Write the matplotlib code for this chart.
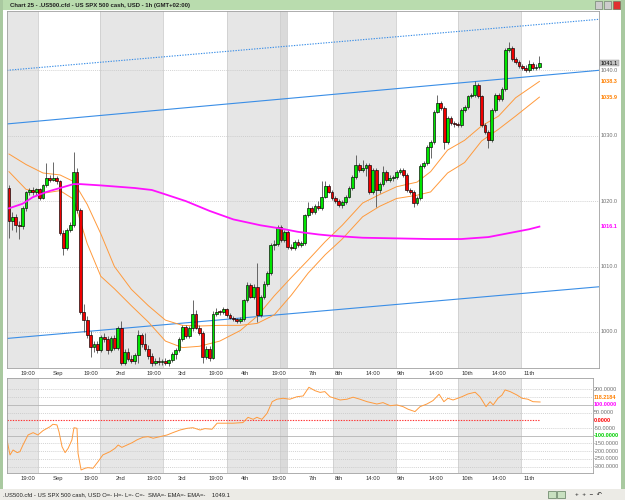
import matplotlib
matplotlib.use("Agg")
import matplotlib.pyplot as plt
from matplotlib.patches import Rectangle

plt.rcParams['font.family'] = ['Liberation Sans', 'DejaVu Sans']

# ---- hourly candles (bar index 0..156) ----
opens = [1022.0, 1016.9, 1017.6, 1016.4, 1016.2, 1019.0, 1021.4, 1021.7, 1021.4, 1021.8,
         1020.5, 1022.4, 1023.5, 1023.3, 1023.6, 1023.0, 1015.1, 1012.8, 1015.6, 1016.3,
         1024.5, 1018.6, 1003.1, 1001.8, 999.5, 997.7, 998.1, 997.3, 999.2, 998.9,
         997.3, 999.0, 997.6, 1000.6, 995.3, 997.0, 995.8, 995.5, 996.5, 999.5,
         998.2, 997.4, 996.3, 995.3, 995.6, 995.4, 995.5, 995.2, 995.7, 996.6,
         997.2, 998.9, 1000.8, 999.3, 1000.6, 1002.8, 1000.6, 999.9, 996.2, 997.4,
         996.0, 1002.8, 1003.1, 1003.0, 1003.5, 1002.6, 1002.1, 1001.9, 1001.7, 1001.9,
         1004.9, 1007.2, 1005.4, 1006.9, 1002.6, 1005.3, 1007.4, 1009.0, 1013.3, 1013.5,
         1016.1, 1014.1, 1015.3, 1013.0, 1012.9, 1013.8, 1013.3, 1013.6, 1017.9, 1018.9,
         1018.4, 1019.2, 1019.0, 1020.7, 1022.3, 1021.4, 1020.4, 1020.0, 1019.4, 1019.9,
         1020.7, 1022.0, 1023.7, 1025.5, 1024.8, 1025.0, 1025.5, 1021.4, 1024.8, 1021.7,
         1022.6, 1024.5, 1023.2, 1023.6, 1023.7, 1024.5, 1024.8, 1024.0, 1021.7, 1021.4,
         1019.7, 1020.4, 1025.3, 1025.8, 1028.3, 1029.1, 1033.7, 1035.0, 1034.2, 1029.1,
         1032.7, 1031.9, 1031.8, 1031.6, 1033.9, 1034.4, 1036.0, 1036.2, 1037.8, 1036.0,
         1031.6, 1030.5, 1029.4, 1033.9, 1036.3, 1035.6, 1037.2, 1043.1, 1043.4, 1041.8,
         1041.3, 1040.6, 1040.3, 1040.0, 1041.0, 1040.3, 1040.5]
highs = [1022.5, 1018.3, 1018.0, 1017.0, 1019.3, 1021.6, 1022.0, 1022.1, 1022.0, 1022.0,
         1022.6, 1025.8, 1024.0, 1026.0, 1023.9, 1023.3, 1015.6, 1015.9, 1016.8, 1027.5,
         1025.0, 1018.9, 1004.3, 1002.5, 1000.2, 998.6, 998.6, 999.6, 999.8, 999.3,
         999.3, 999.5, 1000.9, 1001.6, 997.4, 997.5, 996.5, 996.8, 1000.3, 999.9,
         999.8, 998.0, 996.8, 996.0, 996.2, 995.9, 996.0, 995.9, 996.9, 997.5,
         999.2, 1001.1, 1001.0, 1000.9, 1004.9, 1003.3, 1001.0, 1000.2, 997.8, 997.9,
         1003.2, 1003.6, 1003.4, 1003.8, 1003.7, 1002.9, 1002.5, 1002.2, 1002.3, 1005.1,
         1007.6, 1007.5, 1007.3, 1010.5, 1005.6, 1007.8, 1009.3, 1013.6, 1014.0, 1016.3,
         1016.4, 1015.6, 1015.6, 1013.4, 1014.0, 1014.2, 1013.9, 1018.1, 1019.9, 1019.2,
         1019.5, 1020.0, 1023.0, 1023.0, 1022.6, 1021.7, 1020.8, 1020.3, 1020.2, 1021.0,
         1022.3, 1024.0, 1027.0, 1025.8, 1026.3, 1025.8, 1025.8, 1025.0, 1025.1, 1022.9,
         1025.3, 1024.8, 1024.0, 1024.0, 1024.7, 1025.1, 1025.1, 1024.3, 1022.0, 1021.7,
         1020.8, 1025.6, 1026.2, 1028.6, 1029.4, 1034.0, 1036.2, 1035.3, 1034.5, 1033.0,
         1033.0, 1032.2, 1032.1, 1034.2, 1034.7, 1036.3, 1036.5, 1038.4, 1038.0, 1036.3,
         1031.9, 1030.8, 1034.2, 1036.6, 1036.6, 1037.5, 1043.4, 1044.4, 1043.7, 1042.1,
         1041.6, 1040.9, 1040.8, 1041.6, 1041.3, 1041.0, 1042.2]
lows = [1014.4, 1015.6, 1015.2, 1014.2, 1015.8, 1018.5, 1020.9, 1021.0, 1021.0, 1020.2,
        1020.3, 1022.1, 1022.9, 1023.0, 1022.6, 1014.8, 1011.8, 1012.5, 1015.2, 1016.0,
        1018.2, 1002.8, 1000.0, 999.0, 996.2, 997.0, 996.8, 997.0, 998.4, 996.6,
        997.0, 997.2, 997.3, 995.0, 995.0, 995.5, 995.2, 995.1, 995.2, 997.7,
        997.1, 995.8, 994.8, 994.9, 995.0, 995.0, 994.9, 994.8, 995.4, 995.8,
        996.9, 998.6, 999.0, 999.0, 1000.2, 1000.4, 999.6, 995.2, 995.9, 995.6,
        995.8, 1002.4, 1002.6, 1002.7, 1002.3, 1001.9, 1001.6, 1001.3, 1001.4, 1001.6,
        1004.6, 1005.2, 1005.1, 1001.5, 1002.3, 1005.0, 1007.0, 1008.7, 1012.6, 1013.2,
        1013.8, 1013.8, 1012.7, 1012.5, 1012.6, 1013.0, 1013.0, 1013.3, 1017.6, 1018.1,
        1018.1, 1018.7, 1018.7, 1020.4, 1021.2, 1020.1, 1019.7, 1019.1, 1019.0, 1019.6,
        1020.4, 1021.7, 1023.4, 1024.5, 1024.5, 1023.8, 1021.1, 1021.1, 1019.1, 1021.3,
        1022.3, 1022.9, 1022.9, 1023.0, 1023.4, 1024.2, 1023.7, 1021.4, 1021.1, 1019.1,
        1019.4, 1020.1, 1025.0, 1025.5, 1026.6, 1028.8, 1033.4, 1033.9, 1028.0, 1028.8,
        1031.6, 1031.4, 1031.3, 1031.3, 1033.6, 1034.1, 1035.7, 1035.9, 1035.7, 1031.3,
        1030.2, 1028.1, 1029.1, 1033.6, 1035.3, 1035.3, 1036.9, 1042.8, 1041.5, 1041.0,
        1040.3, 1040.0, 1039.8, 1039.8, 1040.0, 1040.0, 1040.2]
closes = [1016.9, 1017.6, 1016.4, 1016.2, 1019.0, 1021.4, 1021.7, 1021.4, 1021.8, 1020.5,
          1022.4, 1023.5, 1023.3, 1023.6, 1023.0, 1015.1, 1012.8, 1015.6, 1016.3, 1024.5,
          1018.6, 1003.1, 1001.8, 999.5, 997.7, 998.1, 997.3, 999.2, 998.9, 997.3,
          999.0, 997.6, 1000.6, 995.3, 997.0, 995.8, 995.5, 996.5, 999.5, 998.2,
          997.4, 996.3, 995.3, 995.6, 995.4, 995.5, 995.2, 995.7, 996.6, 997.2,
          998.9, 1000.8, 999.3, 1000.6, 1002.8, 1000.6, 999.9, 996.2, 997.4, 996.0,
          1002.8, 1003.1, 1003.0, 1003.5, 1002.6, 1002.1, 1001.9, 1001.7, 1001.9, 1004.9,
          1007.2, 1005.4, 1006.9, 1002.6, 1005.3, 1007.4, 1009.0, 1013.3, 1013.5, 1016.1,
          1014.1, 1015.3, 1013.0, 1012.9, 1013.8, 1013.3, 1013.6, 1017.9, 1018.9, 1018.4,
          1019.2, 1019.0, 1020.7, 1022.3, 1021.4, 1020.4, 1020.0, 1019.4, 1019.9, 1020.7,
          1022.0, 1023.7, 1025.5, 1024.8, 1025.0, 1025.5, 1021.4, 1024.8, 1021.7, 1022.6,
          1024.5, 1023.2, 1023.6, 1023.7, 1024.5, 1024.8, 1024.0, 1021.7, 1021.4, 1019.7,
          1020.4, 1025.3, 1025.8, 1028.3, 1029.1, 1033.7, 1035.0, 1034.2, 1029.1, 1032.7,
          1031.9, 1031.8, 1031.6, 1033.9, 1034.4, 1036.0, 1036.2, 1037.8, 1036.0, 1031.6,
          1030.5, 1029.4, 1033.9, 1036.3, 1035.6, 1037.2, 1043.1, 1043.4, 1041.8, 1041.3,
          1040.6, 1040.3, 1040.0, 1041.0, 1040.3, 1040.5, 1041.1]

# moving averages (bar index, value)
sma_bar = [0, 4, 7, 11, 15, 19, 21, 27, 37, 42, 45, 52, 59, 66, 74, 80, 85, 91, 95,
           104, 114, 124, 133, 141, 147, 153, 156]
sma_val = [1018.9, 1019.6, 1020.6, 1021.4, 1022.0, 1022.6, 1022.6, 1022.4, 1022.0, 1021.7,
           1021.2, 1020.0, 1018.5, 1017.2, 1016.3, 1015.8, 1015.3, 1014.9, 1014.7,
           1014.4, 1014.3, 1014.2, 1014.2, 1014.5, 1015.1, 1015.7, 1016.1]
ema_bar = [0, 5, 10, 15, 19, 23, 27, 31, 36, 41, 46, 51, 56, 62, 68, 73, 78, 83, 88,
           93, 98, 104, 109, 114, 120, 124, 129, 134, 139, 144, 149, 156]
ema_slow = [1027.2, 1025.6, 1024.3, 1024.0, 1023.0, 1019.5, 1015.0, 1010.0, 1006.5, 1004.0,
            1001.8, 1001.0, 1000.9, 1001.0, 1001.0, 1001.3, 1002.6, 1005.6, 1009.0,
            1011.8, 1014.2, 1017.6, 1019.2, 1020.4, 1020.9, 1021.4, 1024.3, 1025.9,
            1029.2, 1031.0, 1033.0, 1035.9]
ema_fast = [1024.5, 1021.8, 1021.2, 1021.6, 1020.3, 1013.5, 1008.5, 1006.6, 1004.0, 1001.5,
            998.6, 997.6, 997.8, 998.6, 1000.2, 1002.4, 1005.5, 1008.3, 1011.0,
            1013.8, 1016.3, 1019.7, 1021.0, 1022.2, 1022.9, 1024.5, 1027.8, 1029.3,
            1031.5, 1033.0, 1035.8, 1038.3]

# trend channel drawn on the chart
channel_bar = [-0.6, 173.5]
channel_low = [999.0, 1006.9]
channel_mid = [1031.8, 1040.0]
channel_top = [1040.0, 1047.8]

# CCI sub-window (bar position, value)
cci_bar = [-0.6, 0.3, 1.2, 2.4, 3.2, 4.1, 5.6, 7.1, 8.5, 10.0, 12.1, 12.9, 14.1, 14.7,
           15.6, 16.5, 17.4, 18.5, 19.1, 20.0, 20.3, 21.2, 22.4, 23.2, 24.7, 26.2, 27.6,
           29.7, 31.2, 32.1, 33.2, 34.7, 36.2, 37.6, 39.4, 40.9, 42.4, 44.4, 46.5, 48.2,
           50.3, 52.4, 54.1, 56.2, 57.6, 59.7, 61.2, 62.9, 65.9, 68.8, 70.3, 71.8, 72.9,
           74.4, 75.9, 77.4, 78.8, 80.6, 82.6, 84.7, 86.5, 88.2, 90.0, 91.5, 92.9, 94.4,
           97.4, 99.4, 101.2, 103.2, 105.3, 108.2, 110.0, 112.1, 114.1, 115.9, 117.4,
           119.4, 120.9, 122.9, 124.7, 126.5, 127.9, 129.1, 130.6, 133.2, 135.0, 137.1,
           138.5, 140.3, 141.5, 142.4, 143.8, 145.0, 145.9, 147.4, 149.4, 150.9, 152.6,
           154.1, 156.2]
cci_val = [-127, -224, -192, -209, -203, -160, -95, -80, -95, -67, -41, -26, -30, -74,
           -171, -209, -181, -127, -48, -52, -213, -321, -310, -306, -310, -267, -224,
           -203, -181, -160, -175, -160, -145, -127, -110, -106, -116, -106, -95, -80,
           -63, -52, -48, -63, -54, -58, -19, -19, -19, -15, 19, 6, 19,
           6, 45, 120, 136, 142, 136, 152, 157, 213, 191, 180, 185, 152,
           131, 136, 149, 136, 120, 105, 114, 94, 99, 88, 71,
           56, 88, 105, 127, 168, 120, 142, 131, 152, 170, 181,
           152, 88, 120, 99, 142, 163, 196, 185, 163, 142, 136,
           120, 118]

# day shading and time axis labels
band_start = [-0.6, 26.8, 64.1, 95.3, 132.1]
band_end = [8.5, 45.3, 81.8, 113.8, 150.6]
day_lines = [8.5, 26.8, 45.3, 64.1, 79.7, 81.8, 95.3, 113.8, 132.1, 150.6]
tick_pos = [5.6, 14.4, 24.1, 32.9, 42.6, 50.9, 60.9, 69.4, 79.4, 89.4, 97.1, 107.1,
            115.3, 125.6, 134.7, 144.1, 152.9]
tick_lab = ['19:00', 'Sep', '19:00', '2nd', '19:00', '3rd', '19:00', '4th', '19:00', '7th',
            '8th', '14:00', '9th', '14:00', '10th', '14:00', '11th']

W, H = 625, 500
fig = plt.figure(figsize=(6.25, 5), dpi=100)
fig.patch.set_facecolor('white')


def box(x0, y0, x1, y1, **kw):
    fig.patches.append(Rectangle((x0 / W, 1 - y1 / H), (x1 - x0) / W, (y1 - y0) / H,
                                 transform=fig.transFigure, **kw))


# window frame, title bar and status bar
box(0, 0, 625, 10, facecolor='#b9dcae', edgecolor='none')
box(0, 0, 3, 500, facecolor='#a9c9a0', edgecolor='none')
box(621, 0, 625, 500, facecolor='#a9c9a0', edgecolor='none')
box(0, 489, 625, 500, facecolor='#ecebe6', edgecolor='none')
fig.text(10 / W, 1 - 5.5 / H, 'Chart 25 - .US500.cfd - US SPX 500 cash, USD - 1h (GMT+02:00)',
         fontsize=4.3, fontweight='bold', va='center', ha='left', color='#202020')
fig.text(3 / W, 1 - 494.5 / H,
         '.US500.cfd - US SPX 500 cash, USD O=- H=- L=- C=-  SMA=- EMA=- EMA=-    1049.1',
         fontsize=4.2, va='center', ha='left', color='#202020')
for bx, c in [(595, '#cccccc'), (604, '#cccccc'), (613, '#e03030')]:
    box(bx, 1.5, bx + 7, 8.5, facecolor=c, edgecolor='#607060', linewidth=0.4)
fig.text(575 / W, 1 - 494.5 / H, '+  +  \u2212  \u21b6', fontsize=4.5, va='center', color='#202020')
box(548, 491, 556, 498, facecolor='#c8e0c0', edgecolor='#406040', linewidth=0.4)
box(557, 491, 565, 498, facecolor='#c8e0c0', edgecolor='#406040', linewidth=0.4)

# ---- main price window ----
ax = fig.add_axes([7 / W, 1 - 368 / H, 592 / W, 357 / H])
ax.set_xlim(-0.59, 173.53)
ax.set_ylim(994.48, 1049.07)
for s, e in zip(band_start, band_end):
    ax.axvspan(s, e, color='#e6e6e6', lw=0, zorder=0)
ax.axvspan(79.7, 81.8, color='#dadada', lw=0, zorder=0)
for d in day_lines:
    ax.axvline(d, color='#cfcfcf', lw=0.6, zorder=0.5)
for lvl in [1000, 1010, 1020, 1030, 1040]:
    ax.axhline(lvl, color='#c4c4c4', lw=0.5, ls=(0, (1.5, 1.5)), zorder=0.6)

ax.plot(channel_bar, channel_low, color='#3a8ee6', lw=0.8, zorder=1)
ax.plot(channel_bar, channel_mid, color='#3a8ee6', lw=0.8, zorder=1)
ax.plot(channel_bar, channel_top, color='#3a8ee6', lw=0.8, ls=(0, (1.2, 1.2)), zorder=1)
ax.plot(ema_bar, ema_slow, color='#ff9a3c', lw=0.7, zorder=1)
ax.plot(ema_bar, ema_fast, color='#ff9a3c', lw=0.7, zorder=1)

idx = list(range(len(closes)))
ax.vlines(idx, lows, highs, color='#505050', lw=0.6, zorder=2)
bottoms = [min(o, c) for o, c in zip(opens, closes)]
heights = [max(abs(c - o), 0.12) for o, c in zip(opens, closes)]
cols = ['#00e400' if c >= o else '#f00000' for o, c in zip(opens, closes)]
ax.bar(idx, heights, bottom=bottoms, width=0.78, color=cols, edgecolor='black',
       linewidth=0.45, zorder=3)
ax.plot(sma_bar, sma_val, color='#ff10ff', lw=1.3, zorder=4)

for sp in ax.spines.values():
    sp.set_color('#a0a0a0')
    sp.set_linewidth(0.6)
ax.set_yticks([])
ax.set_xticks(tick_pos)
ax.set_xticklabels(tick_lab, fontsize=4.2, color='#303030')
ax.tick_params(axis='x', length=0, pad=2.2)

ty = ax.get_yaxis_transform()
for lvl in [1000, 1010, 1020, 1030, 1040]:
    ax.text(1.003, lvl, '%.1f' % lvl, transform=ty, fontsize=4, color='#707070',
            va='center', ha='left')
ax.text(1.003, 1041.1, '1041.1', transform=ty, fontsize=4, color='black', va='center',
        ha='left', bbox=dict(boxstyle='square,pad=0.15', fc='#c4c4c4', ec='#909090', lw=0.3))
ax.text(1.003, 1038.3, '1038.3', transform=ty, fontsize=4, color='#ff8000',
        fontweight='bold', va='center', ha='left')
ax.text(1.003, 1035.9, '1035.9', transform=ty, fontsize=4, color='#ff8000',
        fontweight='bold', va='center', ha='left')
ax.text(1.003, 1016.1, '1016.1', transform=ty, fontsize=4, color='#ff00ff',
        fontweight='bold', va='center', ha='left')

# ---- CCI window ----
ax2 = fig.add_axes([7 / W, 1 - 473 / H, 586 / W, 95 / H])
ax2.set_xlim(-0.59, 171.76)
ax2.set_ylim(-340.7, 273)
for s, e in zip(band_start, band_end):
    ax2.axvspan(s, e, color='#e6e6e6', lw=0, zorder=0)
ax2.axvspan(79.7, 81.8, color='#dadada', lw=0, zorder=0)
for d in day_lines:
    ax2.axvline(d, color='#cfcfcf', lw=0.6, zorder=0.5)
for lvl in [200, 150, 50, -50, -150, -200, -250, -300]:
    ax2.axhline(lvl, color='#c4c4c4', lw=0.5, ls=(0, (1.5, 1.5)), zorder=0.6)
for lvl in [100, -100]:
    ax2.axhline(lvl, color='#b4b4b4', lw=0.6, zorder=0.6)
ax2.plot([-0.6, 156.2], [0, 0], color='#ff3030', lw=0.8, ls=(0, (1.2, 1.2)), zorder=0.7)
ax2.plot(cci_bar, cci_val, color='#ff9a3c', lw=0.7, zorder=2)

for sp in ax2.spines.values():
    sp.set_color('#a0a0a0')
    sp.set_linewidth(0.6)
ax2.set_yticks([])
ax2.set_xticks(tick_pos)
ax2.set_xticklabels(tick_lab, fontsize=4.2, color='#303030')
ax2.tick_params(axis='x', length=0, pad=2.2)

ty2 = ax2.get_yaxis_transform()
cci_labels = [(200, '200.0000', '#707070'), (150, '118.2184', '#ff8000'),
              (100, '100.0000', '#ff00ff'), (50, '50.0000', '#707070'),
              (0, '0.0000', '#ff0000'), (-50, '-50.0000', '#707070'),
              (-100, '-100.0000', '#00d000'), (-150, '-150.0000', '#707070'),
              (-200, '-200.0000', '#707070'), (-250, '-250.0000', '#707070'),
              (-300, '-300.0000', '#707070')]
for v, s, c in cci_labels:
    bold = 'bold' if c != '#707070' else 'normal'
    ax2.text(1.002, v, s, transform=ty2, fontsize=4, color=c, fontweight=bold,
             va='center', ha='left')

fig.savefig('out.png', dpi=100, facecolor='white')
